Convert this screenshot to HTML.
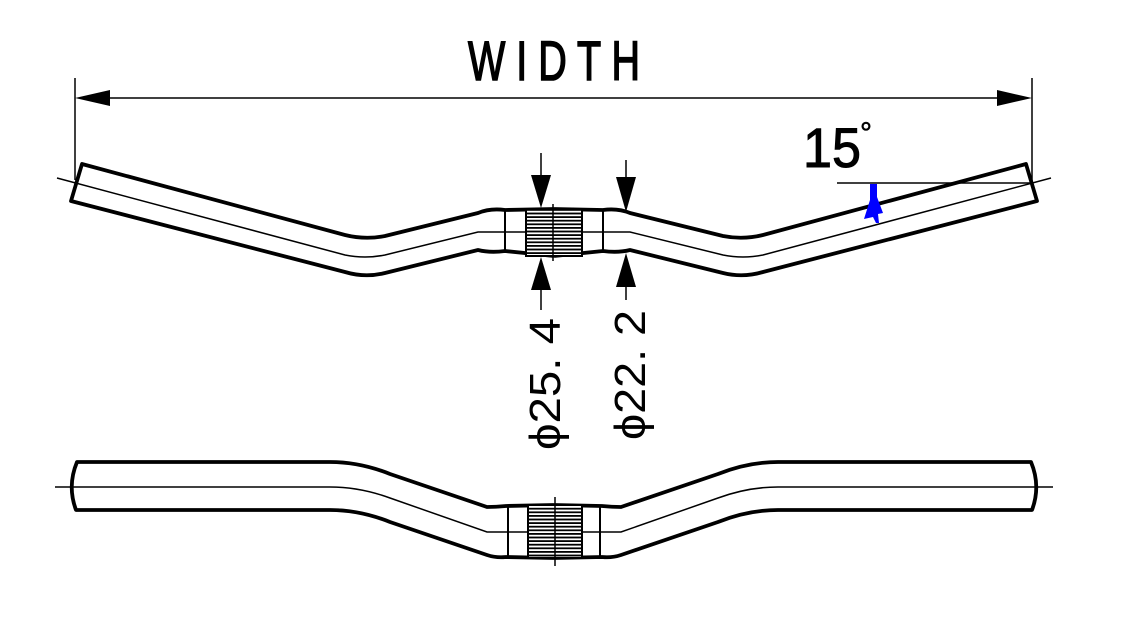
<!DOCTYPE html>
<html><head><style>html,body{margin:0;padding:0;background:#fff}svg{display:block}</style></head>
<body>
<svg width="1127" height="617" viewBox="0 0 1127 617" xmlns="http://www.w3.org/2000/svg">
<defs>
<pattern id="h" width="4" height="3.6" patternUnits="userSpaceOnUse" y="209">
<rect width="4" height="3.6" fill="#fff"/><rect width="4" height="1.8" fill="#000"/>
</pattern>
<g id="halfTop" fill="none" stroke="#000">
<path d="M554,209 L505,210 Q490,208 478,213 L385,236 Q365,240 345,235 L82,164 L71,201 L345,272 Q365,278 385,273 L478,250 Q490,253 505,251 L554,256" stroke-width="3.8" stroke-linejoin="round"/>
<path d="M57,178 L345,255 Q365,259 385,255 L478,232 L554,232" stroke-width="1.5"/>
<line x1="505" y1="210" x2="505" y2="251" stroke-width="2"/>
</g>
<g id="halfBot" fill="none" stroke="#000">
<path d="M554,505 L506,506 Q496,507 487,507 L390,474 Q360,462 330,462 L77,462 Q67,486 76,510 L330,510 Q360,510 390,522 L487,555 Q496,558 506,557 L554,558" stroke-width="3.8" stroke-linejoin="round"/>
<path d="M55,487 L330,487 Q360,487 390,498 L487,532 L554,532" stroke-width="1.5"/>
<line x1="508" y1="506" x2="508" y2="557" stroke-width="2"/>
</g>
</defs>

<g stroke="#000" stroke-width="1.5">
<line x1="75" y1="78" x2="75" y2="180"/>
<line x1="1032" y1="78" x2="1032" y2="183"/>
<line x1="105" y1="98" x2="1000" y2="98"/>
</g>
<polygon points="75,98 110,90 110,106" fill="#000"/>
<polygon points="1032,98 997,90 997,106" fill="#000"/>
<text x="554" y="80" text-anchor="middle" font-family="Liberation Sans, sans-serif" font-size="56" stroke="#000" stroke-width="1.6" textLength="172" lengthAdjust="spacingAndGlyphs">W I D T H</text>

<use href="#halfTop"/>
<use href="#halfTop" transform="translate(1108,0) scale(-1,1)"/>
<rect x="526" y="209" width="56" height="47" fill="url(#h)" stroke="#000" stroke-width="2"/>
<line x1="553" y1="204" x2="553" y2="261" stroke="#000" stroke-width="1.5"/>

<line x1="837" y1="183" x2="1032" y2="183" stroke="#000" stroke-width="1.5"/>
<text x="803" y="167" font-family="Liberation Sans, sans-serif" font-size="56" stroke="#000" stroke-width="1" textLength="58" lengthAdjust="spacingAndGlyphs">15</text>
<text x="860" y="143" font-family="Liberation Sans, sans-serif" font-size="30" stroke="#000" stroke-width="0.6">°</text>
<polygon points="870,184 877,184 877,197 883,213 878,214 879,223 876,223 873,217 864,219 870,200" fill="#0000ff"/>

<g stroke="#000" stroke-width="1.5">
<line x1="541" y1="153" x2="541" y2="180"/>
<line x1="541" y1="285" x2="541" y2="310"/>
<line x1="626" y1="160" x2="626" y2="180"/>
<line x1="626" y1="285" x2="626" y2="300"/>
</g>
<polygon points="541,208 531,175 551,175" fill="#000"/>
<polygon points="541,257 531,290 551,290" fill="#000"/>
<polygon points="626,212 616,177 636,177" fill="#000"/>
<polygon points="626,253 616,287 636,287" fill="#000"/>
<text transform="translate(560,450) rotate(-90)" font-family="Liberation Sans, sans-serif" font-size="44" textLength="132" lengthAdjust="spacingAndGlyphs">ϕ25. 4</text>
<text transform="translate(645,440) rotate(-90)" font-family="Liberation Sans, sans-serif" font-size="44" textLength="130" lengthAdjust="spacingAndGlyphs">ϕ22. 2</text>

<use href="#halfBot"/>
<use href="#halfBot" transform="translate(1108,0) scale(-1,1)"/>
<rect x="528" y="505" width="54" height="53" fill="url(#h)" stroke="#000" stroke-width="2"/>
<line x1="555" y1="497" x2="555" y2="566" stroke="#000" stroke-width="1.5"/>
</svg>
</body></html>
